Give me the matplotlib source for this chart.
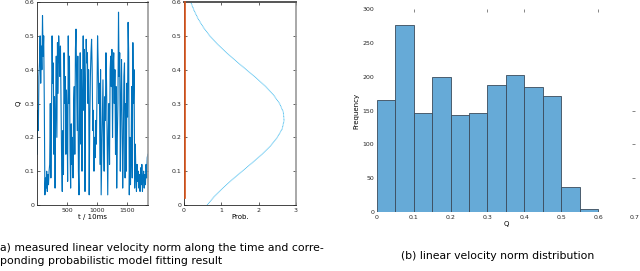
import matplotlib.pyplot as plt
import numpy as np

# measured linear velocity norm Q, one value every 10 samples (t / 10ms)
t_step = 10
q_series = [
    0.15, 0.28, 0.22, 0.38, 0.42, 0.50, 0.36, 0.47, 0.40, 0.56,
    0.44, 0.50, 0.30, 0.03, 0.08, 0.05, 0.10, 0.04, 0.09, 0.06,
    0.10, 0.12, 0.30, 0.08, 0.25, 0.50, 0.36, 0.42, 0.15, 0.32,
    0.05, 0.28, 0.44, 0.20, 0.48, 0.33, 0.50, 0.45, 0.38, 0.47,
    0.30, 0.12, 0.04, 0.22, 0.09, 0.45, 0.30, 0.38, 0.15, 0.34,
    0.26, 0.07, 0.50, 0.30, 0.44, 0.16, 0.05, 0.24, 0.12, 0.20,
    0.08, 0.30, 0.35, 0.15, 0.46, 0.52, 0.38, 0.22, 0.44, 0.10,
    0.03, 0.30, 0.45, 0.18, 0.40, 0.10, 0.33, 0.50, 0.28, 0.46,
    0.04, 0.36, 0.49, 0.42, 0.45, 0.30, 0.40, 0.03, 0.25, 0.38,
    0.45, 0.49, 0.40, 0.22, 0.28, 0.10, 0.20, 0.14, 0.25, 0.18,
    0.32, 0.50, 0.42, 0.30, 0.36, 0.12, 0.40, 0.03, 0.15, 0.28,
    0.37, 0.20, 0.10, 0.32, 0.25, 0.45, 0.36, 0.18, 0.03, 0.22,
    0.30, 0.12, 0.40, 0.44, 0.35, 0.46, 0.20, 0.40, 0.45, 0.30,
    0.40, 0.15, 0.35, 0.05, 0.20, 0.30, 0.57, 0.38, 0.45, 0.10,
    0.30, 0.43, 0.25, 0.05, 0.18, 0.38, 0.42, 0.08, 0.30, 0.10,
    0.36, 0.26, 0.54, 0.45, 0.03, 0.20, 0.06, 0.15, 0.35, 0.08,
    0.48, 0.30, 0.40, 0.05, 0.18, 0.10, 0.04, 0.12, 0.07, 0.10,
    0.05, 0.09, 0.04, 0.11, 0.06, 0.12, 0.04, 0.08, 0.10, 0.05,
    0.09, 0.06, 0.12, 0.08, 0.14, 0.15,
]

# fitted probabilistic model (probability density vs Q)
model_q = [0.000, 0.025, 0.050, 0.075, 0.100, 0.125, 0.150, 0.175, 0.200,
           0.225, 0.250, 0.275, 0.300, 0.325, 0.350, 0.375, 0.400, 0.425,
           0.450, 0.475, 0.500, 0.525, 0.550, 0.575, 0.600]
model_prob = [0.62, 0.81, 1.04, 1.29, 1.56, 1.83, 2.09, 2.32, 2.50,
              2.63, 2.68, 2.66, 2.56, 2.40, 2.19, 1.94, 1.67, 1.40,
              1.14, 0.90, 0.69, 0.52, 0.38, 0.27, 0.18]

# histogram of Q
bin_edges = [0.0, 0.05, 0.10, 0.15, 0.20, 0.25, 0.30, 0.35, 0.40, 0.45, 0.50, 0.55, 0.60]
bin_counts = [166, 276, 147, 200, 143, 147, 188, 202, 185, 171, 37, 5]

caption_a = "a) measured linear velocity norm along the time and corre-\nponding probabilistic model fitting result"
caption_b = "(b) linear velocity norm distribution"

plt.rcParams["font.family"] = ["DejaVu Sans"]
TICK_FS = 4.5
CAP_FS = 7.8

fig = plt.figure(figsize=(6.4, 2.71), dpi=100)

# --- (a) left: time series
ax1 = fig.add_axes([0.058, 0.2435, 0.173, 0.749])
t = np.arange(len(q_series)) * t_step
ax1.plot(t, q_series, color="#0072BD", lw=0.8)
ax1.set_xlim(0, 1850)
ax1.set_ylim(0, 0.6)
ax1.set_xticks([500, 1000, 1500])
ax1.set_yticks(np.arange(0, 0.61, 0.1))
ax1.set_yticklabels(["0", "0.1", "0.2", "0.3", "0.4", "0.5", "0.6"])
ax1.set_xlabel("t / 10ms", fontsize=5, labelpad=1)
ax1.set_ylabel("Q", fontsize=5, labelpad=2)

# --- (a) right: model fit
ax2 = fig.add_axes([0.2875, 0.2435, 0.175, 0.749])
ax2.plot([0.035, 0.035], [0.02, 0.6], color="#D95319", lw=1.2, zorder=5, clip_on=False)
ax2.plot(model_prob, model_q, color="#4DBEEE", lw=0.7, ls=(0, (1, 0.5)))
ax2.set_xlim(0, 3)
ax2.set_ylim(0, 0.6)
ax2.set_xticks([0, 1, 2, 3])
ax2.set_yticks(np.arange(0, 0.61, 0.1))
ax2.set_yticklabels(["0", "0.1", "0.2", "0.3", "0.4", "0.5", "0.6"])
ax2.set_xlabel("Prob.", fontsize=5, labelpad=1)

for ax in (ax1, ax2):
    ax.tick_params(direction="in", length=2, width=0.5, labelsize=TICK_FS, pad=2,
                   top=True, right=True, colors="#262626")
    for s in ax.spines.values():
        s.set_linewidth(0.6)
        s.set_color("#262626")
ax1.spines["right"].set_color("#999999")
ax1.spines["right"].set_linewidth(1.2)
ax2.spines["right"].set_color("#999999")
ax2.spines["right"].set_linewidth(1.2)
ax2.spines["top"].set_linewidth(1.4)
ax2.spines["top"].set_color("#555555")

# --- (b) histogram
ax3 = fig.add_axes([0.589, 0.2177, 0.403, 0.749])
ax3.hist(bin_edges[:-1], bins=bin_edges, weights=bin_counts,
         color="#66AAD7", edgecolor="#3a4a5a", linewidth=0.6)
ax3.set_xlim(0, 0.7)
ax3.set_ylim(0, 300)
ax3.set_xticks(np.arange(0, 0.71, 0.1))
ax3.set_xticklabels(["0", "0.1", "0.2", "0.3", "0.4", "0.5", "0.6", "0.7"])
ax3.set_yticks(np.arange(0, 301, 50))
ax3.set_xlabel("Q", fontsize=5, labelpad=1)
ax3.set_ylabel("Frequency", fontsize=5, labelpad=2)
ax3.tick_params(length=0, labelsize=TICK_FS, pad=2, colors="#262626")
for s in ax3.spines.values():
    s.set_visible(False)
top_ax = ax3.secondary_xaxis("top")
top_ax.set_xticks([0.1, 0.3, 0.4, 0.6])
top_ax.set_xticklabels([])
top_ax.tick_params(direction="in", length=2, width=0.5, colors="#555555")
top_ax.spines["top"].set_visible(False)
right_ax = ax3.secondary_yaxis("right")
right_ax.set_yticks([50, 100, 150])
right_ax.set_yticklabels([])
right_ax.tick_params(direction="in", length=2, width=0.5, colors="#555555")
right_ax.spines["right"].set_visible(False)

fig.text(0.0, 0.061, caption_a, fontsize=CAP_FS, ha="left", va="center", linespacing=1.35)
fig.text(0.626, 0.055, caption_b, fontsize=CAP_FS, ha="left", va="center")

fig.savefig("out.png", dpi=100)
